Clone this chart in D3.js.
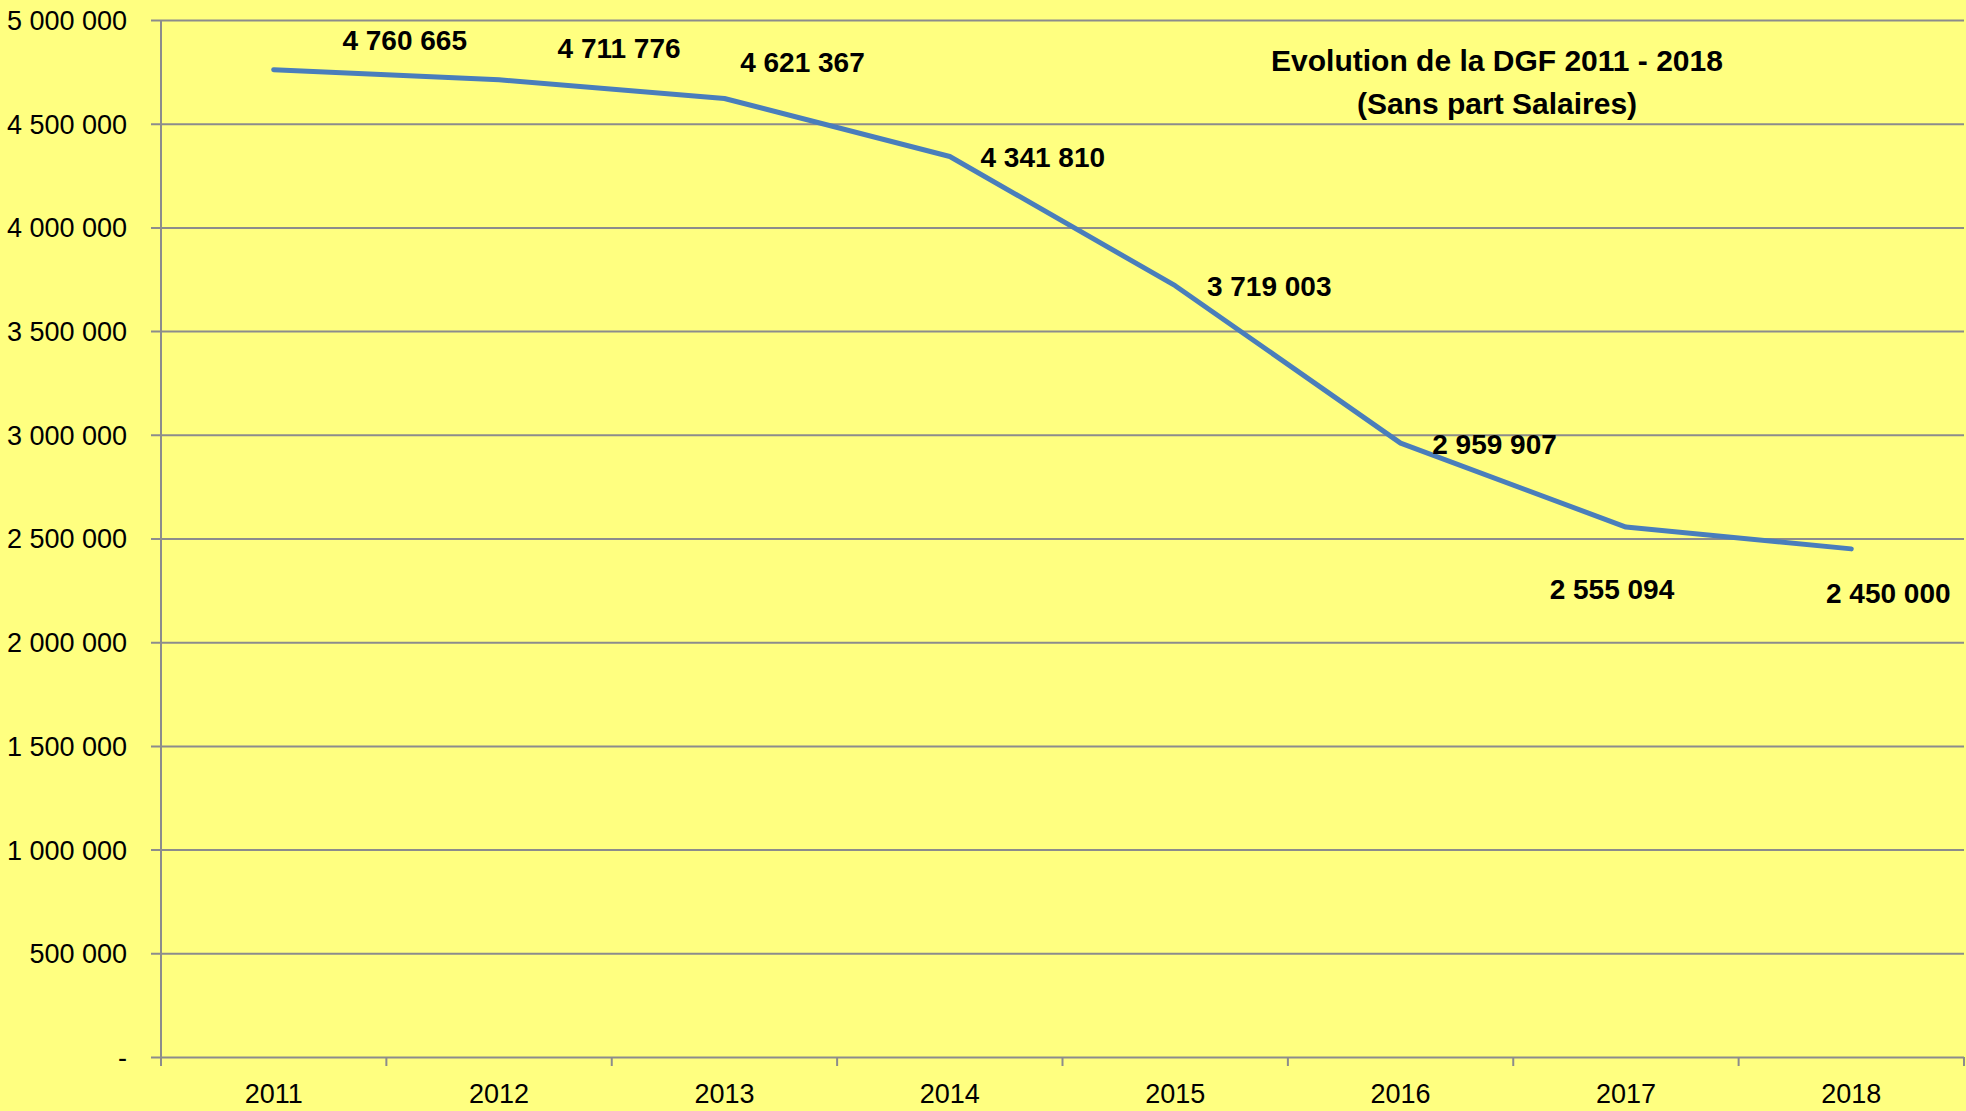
<!DOCTYPE html>
<html lang="fr">
<head>
<meta charset="UTF-8">
<title>Evolution de la DGF 2011 - 2018</title>
<script src="https://d3js.org/d3.v7.min.js"></script>
<style>
    body { margin: 0; background: #ffff80; }
    svg { display: block; font-family: "Liberation Sans", Arial, sans-serif; }
    .grid line { stroke: #8c8c8c; stroke-width: 2px; }
    .axis text { fill: #000; font-size: 27px; }
    .lbl { font-size: 28px; font-weight: bold; fill: #000; }
    .title { font-size: 30px; font-weight: bold; fill: #000; }
</style>
</head>
<body>
<svg width="1966" height="1111"></svg>
<script>
    // donnees
    var years  = ["2011", "2012", "2013", "2014", "2015", "2016", "2017", "2018"];
    var dgf    = [4760665, 4711776, 4621367, 4341810, 3719003, 2959907, 2555094, 2450000];
    var yTicks = [0, 500000, 1000000, 1500000, 2000000, 2500000, 3000000, 3500000, 4000000, 4500000, 5000000];
    var titleLines = ["Evolution de la DGF 2011 - 2018", "(Sans part Salaires)"];

    // placement des etiquettes (decalage par rapport au point)
    var labelOffset = [[131, -29], [120, -32], [78, -36], [93, 1], [94, 1], [94, 1], [-14, 62], [37, 44]];

    var svg = d3.select("svg");
    var plotLeft = 161, plotRight = 1964, plotTop = 20, plotBottom = 1057;

    var x = d3.scaleBand().domain(years).range([plotLeft, plotRight]).padding(0);
    var y = d3.scaleLinear().domain([0, 5000000]).range([plotBottom, plotTop]);

    var fr = d3.formatLocale({decimal: ",", thousands: " ", grouping: [3], currency: ["", ""]});
    var fmt = fr.format(",d");

    svg.append("rect").attr("width", 1966).attr("height", 1111).attr("fill", "#ffff80");

    // quadrillage + axe Y
    var gy = svg.append("g")
        .attr("class", "grid axis")
        .attr("transform", "translate(" + plotLeft + ",0)")
        .call(d3.axisLeft(y)
            .tickValues(yTicks)
            .tickSize(-(plotRight - plotLeft))
            .tickPadding(34)
            .tickFormat(function(d) { return d === 0 ? "-" : fmt(d); }));
    gy.select(".domain").remove();
    gy.selectAll(".tick line").attr("x1", -10).attr("x2", plotRight - plotLeft);
    gy.selectAll(".tick text").attr("x", -34).attr("dy", "0.35em");

    // axe vertical
    svg.append("line")
        .attr("x1", plotLeft).attr("x2", plotLeft)
        .attr("y1", plotTop).attr("y2", plotBottom + 9)
        .attr("stroke", "#8c8c8c").attr("stroke-width", 2);

    // graduations X aux limites des categories
    var bounds = years.map(function(d) { return x(d); }).concat([plotRight]);
    svg.append("g").selectAll("line")
        .data(bounds)
        .enter().append("line")
        .attr("x1", function(d) { return d; })
        .attr("x2", function(d) { return d; })
        .attr("y1", plotBottom).attr("y2", plotBottom + 9)
        .attr("stroke", "#8c8c8c").attr("stroke-width", 2);

    var gx = svg.append("g")
        .attr("class", "axis")
        .attr("transform", "translate(0," + plotBottom + ")")
        .call(d3.axisBottom(x).tickSize(0).tickPadding(37));
    gx.select(".domain").remove();
    gx.selectAll(".tick text").attr("dy", "0.35em");

    // courbe
    var line = d3.line()
        .x(function(d, i) { return x(years[i]) + x.bandwidth() / 2; })
        .y(function(d) { return y(d); });

    svg.append("path")
        .datum(dgf)
        .attr("d", line)
        .attr("fill", "none")
        .attr("stroke", "#4a7ebb")
        .attr("stroke-width", 5)
        .attr("stroke-linecap", "round")
        .attr("stroke-linejoin", "round");

    // etiquettes de donnees
    svg.append("g").selectAll("text")
        .data(dgf)
        .enter().append("text")
        .attr("class", "lbl")
        .attr("text-anchor", "middle")
        .attr("dy", "0.35em")
        .attr("x", function(d, i) { return x(years[i]) + x.bandwidth() / 2 + labelOffset[i][0]; })
        .attr("y", function(d, i) { return y(d) + labelOffset[i][1]; })
        .text(function(d) { return fmt(d); });

    // titre
    svg.append("g").selectAll("text")
        .data(titleLines)
        .enter().append("text")
        .attr("class", "title")
        .attr("text-anchor", "middle")
        .attr("dy", "0.35em")
        .attr("x", 1497)
        .attr("y", function(d, i) { return 60 + i * 43; })
        .text(function(d) { return d; });
</script>
</body>
</html>
